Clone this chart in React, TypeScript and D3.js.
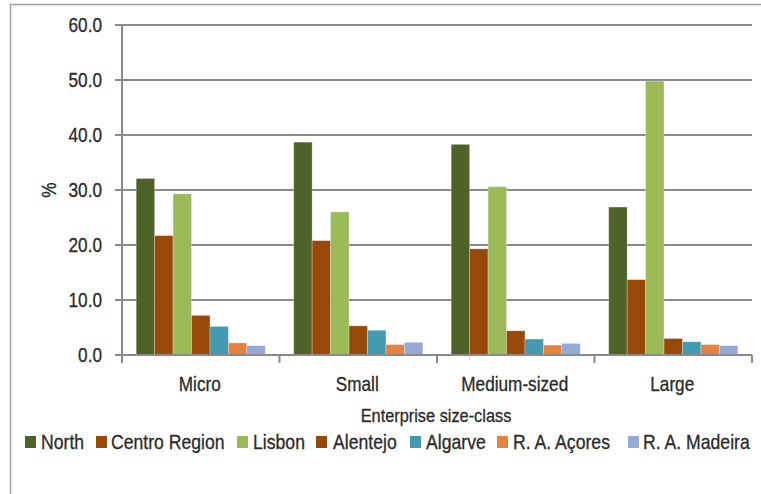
import React from "react";
import * as d3 from "d3";

const categories = ["Micro", "Small", "Medium-sized", "Large"];
const regions = ["North", "Centro Region", "Lisbon", "Alentejo", "Algarve", "R. A. Açores", "R. A. Madeira"];
const north = [32.1, 38.7, 38.3, 26.9];
const centro = [21.7, 20.8, 19.3, 13.7];
const lisbon = [29.3, 26.0, 30.6, 49.8];
const alentejo = [7.2, 5.3, 4.4, 3.0];
const algarve = [5.2, 4.5, 2.9, 2.4];
const acores = [2.2, 1.9, 1.8, 1.9];
const madeira = [1.7, 2.3, 2.1, 1.7];
const seriesValues = [north, centro, lisbon, alentejo, algarve, acores, madeira];
const colors = ["#4F6228", "#984807", "#9BBB59", "#984807", "#4399B0", "#E3833F", "#95AAD6"];
const yTicks = [0, 10, 20, 30, 40, 50, 60];

const W = 761;
const H = 494;
const left = 122;
const right = 752;
const top = 25;
const bottom = 355;
const SX = 0.86;
const textColor = "#2a2a2a";
const gridColor = "#8a8a8a";
const font = "'Liberation Sans', Arial, sans-serif";

function T({ x, y, size, anchor = "middle", children, rotate = 0 }: any) {
  return (
    <text
      transform={`translate(${x},${y}) rotate(${rotate}) scale(${SX},1)`}
      fontSize={size}
      fontFamily={font}
      fill={textColor}
      stroke={textColor}
      strokeWidth={0.3}
      textAnchor={anchor}
      dominantBaseline="central"
    >
      {children}
    </text>
  );
}

export default function App() {
  const y = d3.scaleLinear().domain([0, 60]).range([bottom, top]);
  const x0 = d3.scaleBand().domain(categories).range([left, right]).paddingInner(0).paddingOuter(0);
  const inner = d3
    .scaleBand()
    .domain(regions)
    .range([0, x0.bandwidth()])
    .paddingInner(0)
    .paddingOuter(0.77);

  const boundaries = [...categories.map((c) => x0(c)!), right];

  // legend layout: square then label
  const legendItems = [
    { sq: 25, tx: 41 },
    { sq: 96, tx: 111 },
    { sq: 237, tx: 253 },
    { sq: 316, tx: 333 },
    { sq: 410, tx: 426 },
    { sq: 497, tx: 513 },
    { sq: 628, tx: 643 },
  ];

  return (
    <svg
      width={W}
      height={H}
      style={{ position: "absolute", left: 0, top: 0, background: "#fff" }}
    >
      {/* outer frame */}
      <path d={`M10.5,${H} L10.5,4.5 L${W},4.5`} fill="none" stroke="#a0a0a0" strokeWidth={1.5} />

      {/* gridlines and y ticks */}
      {yTicks.map((t) => (
        <g key={t}>
          <line x1={115} x2={right} y1={y(t)} y2={y(t)} stroke={gridColor} strokeWidth={2} />
          <T x={102} y={y(t)} size={20} anchor="end">
            {t.toFixed(1)}
          </T>
        </g>
      ))}

      {/* bars */}
      {categories.map((c, ci) => (
        <g key={c} transform={`translate(${x0(c)},0)`}>
          {regions.map((r, ri) => {
            const v = seriesValues[ri][ci];
            return (
              <rect
                key={r}
                x={inner(r)}
                y={y(v)}
                width={inner.bandwidth()}
                height={y(0) - y(v)}
                fill={colors[ri]}
                stroke="rgba(255,255,255,0.35)"
                strokeWidth={0.8}
              />
            );
          })}
        </g>
      ))}

      {/* axes */}
      <line x1={left} x2={left} y1={top} y2={bottom + 1} stroke={gridColor} strokeWidth={2} />
      <line x1={115} x2={right} y1={bottom} y2={bottom} stroke={gridColor} strokeWidth={2} />
      {boundaries.map((b, i) => (
        <line key={i} x1={b} x2={b} y1={bottom} y2={bottom + 8} stroke={gridColor} strokeWidth={2} />
      ))}

      {/* category labels */}
      {categories.map((c) => (
        <T key={c} x={x0(c)! + x0.bandwidth() / 2 - 1} y={384} size={20}>
          {c}
        </T>
      ))}

      {/* axis titles */}
      <T x={436} y={416} size={19}>
        Enterprise size-class
      </T>
      <T x={49} y={190} size={20} rotate={-90}>
        %
      </T>

      {/* legend */}
      {regions.map((r, i) => (
        <g key={r}>
          <rect x={legendItems[i].sq} y={436} width={11} height={12} fill={colors[i]} />
          <T x={legendItems[i].tx} y={442} size={20.5} anchor="start">
            {r}
          </T>
        </g>
      ))}
    </svg>
  );
}
